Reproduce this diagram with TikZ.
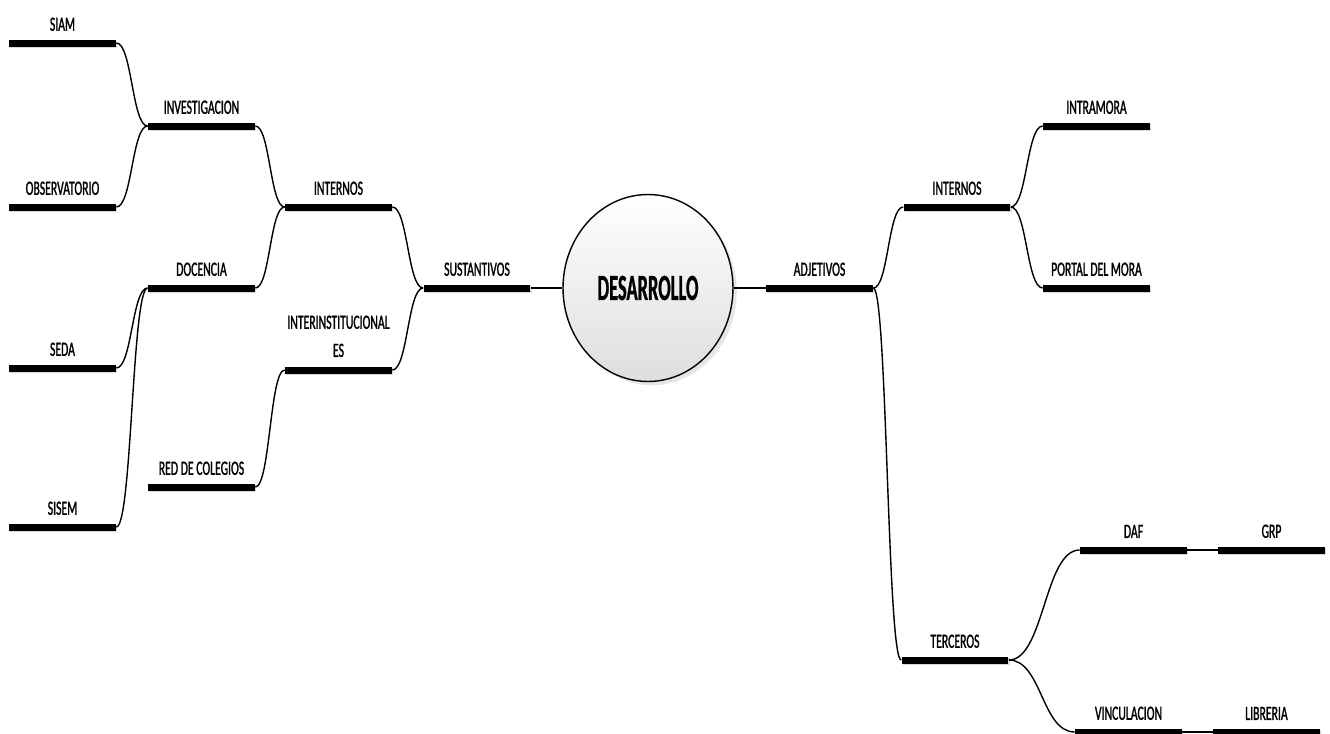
\documentclass[tikz,border=0pt]{standalone}
\usepackage{fontspec}
\newfontfamily\mapfont[FakeStretch=0.58, FakeBold=1.2]{Carlito}
\newfontfamily\titlefont[FakeStretch=0.5, FakeBold=0.8]{Carlito}
\usetikzlibrary{
  calc,
  positioning,
  shadows,
  shapes.geometric,
}
\tikzset{
  bar/.style={fill=black, minimum width=2.14cm, minimum height=0.14cm, inner sep=0pt,
    drop shadow={shadow xshift=0.6pt, shadow yshift=-1pt, opacity=0.3}},
  every label/.style={font=\mapfont\fontsize{11.5}{16}\selectfont, inner sep=0pt},
  label distance=4.5pt,
  link/.style={line width=0.8pt},
  branch/.style={to path={.. controls ($(\tikztostart)!0.5!(\tikztotarget |- \tikztostart)$)
      and ($(\tikztotarget)!0.5!(\tikztostart |- \tikztotarget)$) .. (\tikztotarget)}},
}

\begin{document}
\begin{tikzpicture}[x=0.02cm, y=-0.02cm]
  \useasboundingbox (0,0) rectangle (1330,734);
  % left side
  \node [bar, label=above:SIAM] (siam) at (62.5,43) {};
  \node [bar, label=above:OBSERVATORIO] (obs) at (62.5,207) {};
  \node [bar, label=above:SEDA] (seda) at (62.5,368) {};
  \node [bar, label=above:SISEM] (sisem) at (62.5,527) {};
  \node [bar, label=above:INVESTIGACION] (inv) at (201.5,126) {};
  \node [bar, label=above:DOCENCIA] (doc) at (201.5,288) {};
  \node [bar, label=above:RED DE COLEGIOS] (red) at (201.5,487) {};
  \node [bar, label=above:INTERNOS] (intl) at (338.5,207) {};
  \node [bar, label={[align=center, label distance=5pt]above:{INTERINSTITUCIONAL\\ES}}] (inter) at (338.5,370) {};
  \node [bar, label=above:SUSTANTIVOS] (sust) at (477,288) {};
  % centre
  \node [ellipse, draw, line width=0.8pt, minimum width=3.4cm, minimum height=3.74cm,
    top color=white, bottom color=black!13, drop shadow={opacity=0.2},
    font=\titlefont\bfseries\fontsize{21}{24}\selectfont] (dev) at (648,288) {DESARROLLO};
  % right side
  \node [bar, label=above:ADJETIVOS] (adj) at (819.5,288) {};
  \node [bar, label=above:INTERNOS] (intr) at (957,207) {};
  \node [bar, label=above:INTRAMORA] (intra) at (1096.5,126) {};
  \node [bar, label=above:PORTAL DEL MORA] (portal) at (1096.5,288) {};
  \node [bar, label=above:TERCEROS] (terc) at (955,660) {};
  \node [bar, label=above:DAF] (daf) at (1133.5,550) {};
  \node [bar, label=above:GRP] (grp) at (1271.5,550) {};
  \node [bar, label=above:VINCULACION] (vinc) at (1128.5,732) {};
  \node [bar, label=above:LIBRERIA] (libr) at (1266.5,732) {};
  % connectors
  \draw [link] (inv.west) to[branch] (siam.east);
  \draw [link] (inv.west) to[branch] (obs.east);
  \draw [link] (doc.west) to[branch] (seda.east);
  \draw [link] (doc.west) to[branch] (sisem.east);
  \draw [link] (intl.west) to[branch] (inv.east);
  \draw [link] (intl.west) to[branch] (doc.east);
  \draw [link] (inter.west) to[branch] (red.east);
  \draw [link] (sust.west) to[branch] (intl.east);
  \draw [link] (sust.west) to[branch] (inter.east);
  \draw [link] (sust.east) -- (dev);
  \draw [link] (dev) -- (adj.west);
  \draw [link] (adj.east) to[branch] (intr.west);
  \draw [link] (adj.east) to[branch] (terc.west);
  \draw [link] (intr.east) to[branch] (intra.west);
  \draw [link] (intr.east) to[branch] (portal.west);
  \draw [link] (terc.east) to[branch] (daf.west);
  \draw [link] (terc.east) to[branch] (vinc.west);
  \draw [link] (daf) -- (grp);
  \draw [link] (vinc) -- (libr);
\end{tikzpicture}
\end{document}
